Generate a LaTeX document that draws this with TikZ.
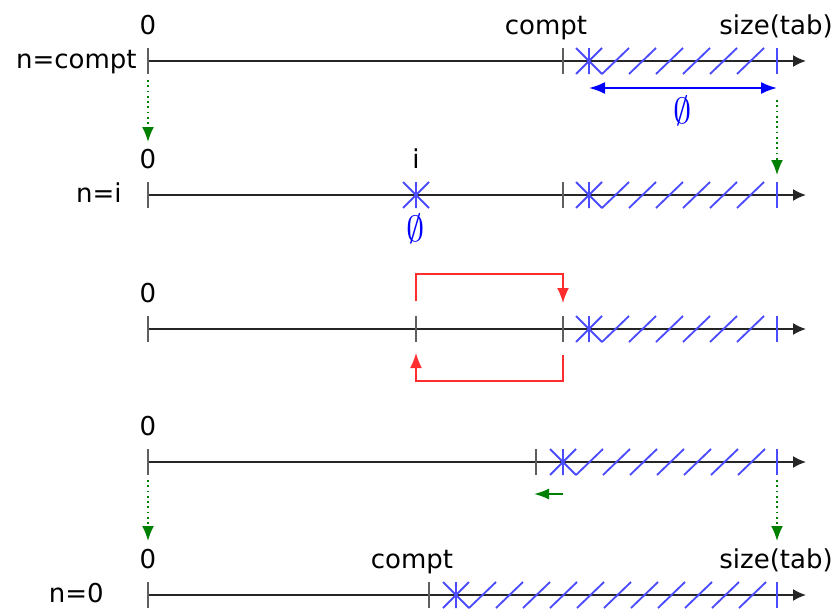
\documentclass[tikz,border=0pt]{standalone}
\usepackage{fontspec}
\setmainfont{DejaVu Sans}
\usetikzlibrary{arrows.meta}
\definecolor{HatchBlue}{RGB}{75,75,255}
\definecolor{TickGray}{RGB}{95,95,95}
\definecolor{JumpGreen}{RGB}{0,128,0}
\definecolor{SwapRed}{RGB}{255,45,45}
\tikzset{
  axis/.style={-{Latex[length=0.26cm,width=0.24cm]},line width=1pt,black!85},
  tickmark/.style={TickGray,line width=1.3pt},
  sizemark/.style={HatchBlue,line width=1.3pt},
  hatch/.style={HatchBlue,line width=1.05pt},
  lbl/.style={font=\fontsize{14.8}{17}\selectfont,inner sep=0pt},
  voidlbl/.style={text=blue,font=\fontsize{22}{24}\selectfont,inner sep=0pt},
  jump/.style={-{Latex[length=0.3cm,width=0.24cm]},dotted,JumpGreen,line width=1pt},
  swaparrow/.style={-{Latex[length=0.3cm,width=0.24cm]},SwapRed,line width=0.9pt},
  emptyspan/.style={{Latex[length=0.32cm,width=0.24cm]}-{Latex[length=0.32cm,width=0.24cm]},
    blue,line width=1.1pt},
  moveleft/.style={-{Latex[length=0.3cm,width=0.22cm]},JumpGreen,line width=1pt},
  cross/.pic={
    \draw[hatch] (0,-13) -- (0,13) (-13,-13) -- (13,13) (-13,13) -- (13,-13);
  }
}

\begin{document}
\begin{tikzpicture}[x=0.02cm,y=-0.02cm]
  \useasboundingbox (0,0) rectangle (838,612);

  % the five arrays
  \foreach \r/\y/\c/\s/\n in {1/61/563/589/5,2/195/563/589/5,3/329/563/589/5,
                              4/462/536/563/6,5/595/429/456/10}{
    \coordinate (z\r) at (148,\y);
    \coordinate (c\r) at (\c,\y);
    \coordinate (s\r) at (\s,\y);
    \coordinate (t\r) at (777,\y);
    \coordinate (e\r) at (806,\y);
    \draw[axis] (z\r) -- (e\r);
    \draw[tickmark] (z\r) ++(0,-13) -- ++(0,26);
    \draw[tickmark] (c\r) ++(0,-13) -- ++(0,26);
    \draw[sizemark] (t\r) ++(0,-13) -- ++(0,26);
    \pic at (s\r) {cross};
    \foreach \k in {0,...,\n}
      \draw[hatch] (\s+13+27*\k,\y+13) -- ++(27,-26);
  }

  % labels above
  \node[lbl,anchor=base] (zero1) at (148,34) {0};
  \node[lbl,anchor=base] (compt1) at (546,34) {compt};
  \node[lbl,anchor=base] (size1) at (776,34) {size(tab)};
  \node[lbl,anchor=base] (zero2) at (148,168) {0};
  \node[lbl,anchor=base] (ilbl) at (416,168) {i};
  \node[lbl,anchor=base] (zero3) at (148,302) {0};
  \node[lbl,anchor=base] (zero4) at (148,435) {0};
  \node[lbl,anchor=base] (zero5) at (148,568) {0};
  \node[lbl,anchor=base] (compt5) at (412,568) {compt};
  \node[lbl,anchor=base] (size5) at (776,568) {size(tab)};

  % left labels
  \node[lbl,anchor=base east] (n1) at (137,68) {n=compt};
  \node[lbl,anchor=base east] (n2) at (122,202) {n=i};
  \node[lbl,anchor=base east] (n5) at (104,602) {n=0};

  % row 1: empty part
  \coordinate (v1) at (589,88);
  \coordinate (v2) at (777,88);
  \draw[emptyspan] (v1) -- (v2);
  \node[voidlbl] (void1) at (683,111) {$\emptyset$};

  % row 2: element i
  \coordinate (i2) at (416,195);
  \pic at (i2) {cross};
  \node[voidlbl] (void2) at (416,229) {$\emptyset$};

  % row 3: swap
  \coordinate (i3) at (416,329);
  \draw[tickmark] (i3) ++(0,-13) -- ++(0,26);
  \coordinate (r1) at (416,301);
  \coordinate (r2) at (563,303);
  \coordinate (r3) at (563,355);
  \coordinate (r4) at (416,353);
  \draw[swaparrow] (r1) -- ++(0,-27) -| (r2);
  \draw[swaparrow] (r3) -- ++(0,26) -| (r4);

  % row 4: compt moves left
  \coordinate (m1) at (563,494);
  \coordinate (m2) at (534,494);
  \draw[moveleft] (m1) -- (m2);

  % steps
  \coordinate (g1) at (148,80);
  \coordinate (g2) at (148,142);
  \coordinate (g3) at (777,100);
  \coordinate (g4) at (777,175);
  \coordinate (g5) at (148,480);
  \coordinate (g6) at (148,541);
  \coordinate (g7) at (777,480);
  \coordinate (g8) at (777,541);
  \draw[jump] (g1) -- (g2);
  \draw[jump] (g3) -- (g4);
  \draw[jump] (g5) -- (g6);
  \draw[jump] (g7) -- (g8);
\end{tikzpicture}
\end{document}
